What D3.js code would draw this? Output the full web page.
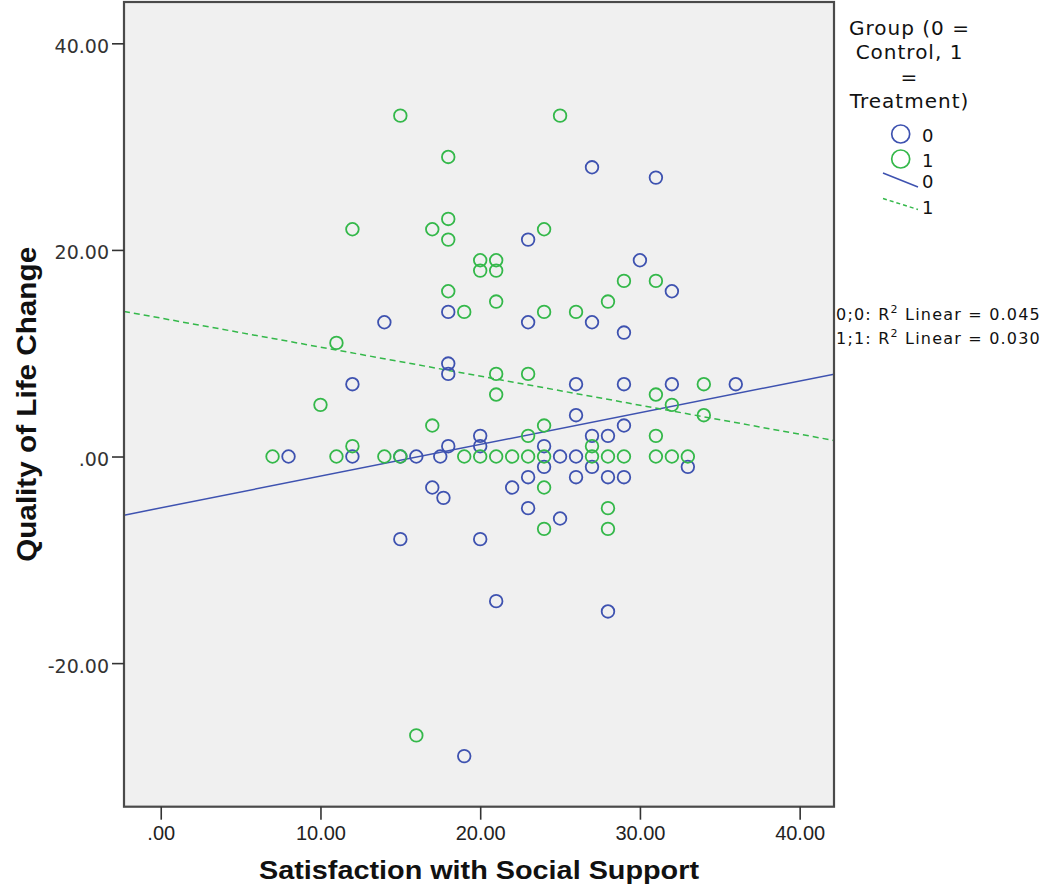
<!DOCTYPE html>
<html>
<head>
<meta charset="utf-8">
<script src="https://cdn.jsdelivr.net/npm/d3@7"></script>
<style>
  html, body { margin: 0; padding: 0; background: #ffffff; }
  svg { display: block; }
</style>
</head>
<body>
<svg id="chart" width="1050" height="889"></svg>
<script>
// ---------- DATA ----------
// Group 0 = Control (blue), [Satisfaction with Social Support, Quality of Life Change]
const controlPoints = [
  [8,0],[12,7],[12,0],[14,13],[15,0],[15,-8],[16,0],[17,-3],[17.5,0],[17.7,-4],
  [18,14],[18,9],[18,8],[18,1],[19,-29],[20,2],[20,1],[20,-8],[21,-14],[22,-3],
  [23,21],[23,13],[23,-2],[23,-5],[24,1],[24,-1],[25,0],[25,-6],[26,7],[26,4],
  [26,0],[26,-2],[27,28],[27,13],[27,2],[27,-1],[28,2],[28,-2],[28,-15],[29,12],
  [29,7],[29,3],[29,-2],[30,19],[31,27],[32,16],[32,7],[33,-1],[36,7]
];
// Group 1 = Treatment (green)
const treatmentPoints = [
  [7,0],[10,5],[11,11],[11,0],[12,22],[12,1],[14,0],[15,33],[15,0],[16,-27],
  [17,22],[17,3],[18,29],[18,23],[18,21],[18,16],[19,14],[19,0],[20,19],[20,18],
  [20,0],[21,19],[21,18],[21,15],[21,8],[21,6],[21,0],[22,0],[23,8],[23,2],
  [23,0],[24,22],[24,14],[24,3],[24,0],[24,-3],[24,-7],[25,33],[26,14],[27,1],
  [27,0],[28,15],[28,0],[28,-5],[28,-7],[29,17],[29,0],[31,17],[31,6],[31,2],
  [31,0],[32,5],[32,0],[33,0],[34,7],[34,4]
];
// Fit lines (intercept, slope)
const fitIntercepts = [-4.97, 13.40];
const fitSlopes = [0.307, -0.281];
const fitR2 = ["0.045", "0.030"];
const groupKeys = ["0", "1"];

const xDomain = [-2.3, 42.15];
const yDomain = [-33.9, 44.0];
const xTickValues = [0, 10, 20, 30, 40];
const xTickLabels = [".00", "10.00", "20.00", "30.00", "40.00"];
const yTickValues = [-20, 0, 20, 40];
const yTickLabels = ["-20.00", ".00", "20.00", "40.00"];

const xTitle = "Satisfaction with Social Support";
const yTitle = "Quality of Life Change";
const legendTitleLines = ["Group (0 =", "Control, 1", "=", "Treatment)"];

// ---------- STYLE ----------
const colors = ["#3e52b0", "#34b84a"];
const plot = { left: 124, right: 834, top: 2, bottom: 806.7 };

const svg = d3.select("#chart");

const x = d3.scaleLinear().domain(xDomain).range([plot.left, plot.right]);
const y = d3.scaleLinear().domain(yDomain).range([plot.bottom, plot.top]);

// plot background
svg.append("rect")
  .attr("x", plot.left).attr("y", plot.top)
  .attr("width", plot.right - plot.left).attr("height", plot.bottom - plot.top)
  .attr("fill", "#f0f0f0");

svg.append("clipPath").attr("id", "plotclip").append("rect")
  .attr("x", plot.left).attr("y", plot.top)
  .attr("width", plot.right - plot.left).attr("height", plot.bottom - plot.top);

const g = svg.append("g").attr("clip-path", "url(#plotclip)");

// fit lines
[0, 1].forEach(i => {
  const pts = xDomain.map(v => [v, fitIntercepts[i] + fitSlopes[i] * v]);
  g.append("path")
    .attr("d", d3.line().x(d => x(d[0])).y(d => y(d[1]))(pts))
    .attr("fill", "none")
    .attr("stroke", colors[i])
    .attr("stroke-width", 1.5)
    .attr("stroke-dasharray", i === 1 ? "6,4" : null);
});

// points
[controlPoints, treatmentPoints].forEach((pts, i) => {
  g.selectAll(null).data(pts).enter().append("circle")
    .attr("cx", d => x(d[0]))
    .attr("cy", d => y(d[1]))
    .attr("r", 6.3)
    .attr("fill", "none")
    .attr("stroke", colors[i])
    .attr("stroke-width", 1.8);
});

// frame
svg.append("rect")
  .attr("x", plot.left).attr("y", plot.top)
  .attr("width", plot.right - plot.left).attr("height", plot.bottom - plot.top)
  .attr("fill", "none")
  .attr("stroke", "#4a4a4a")
  .attr("stroke-width", 2.2);

// x axis
const xAxis = d3.axisBottom(x)
  .tickValues(xTickValues)
  .tickFormat((d, i) => xTickLabels[i])
  .tickSize(13).tickPadding(6);
const xg = svg.append("g").attr("transform", `translate(0,${plot.bottom})`).call(xAxis);
xg.select(".domain").remove();
xg.selectAll(".tick line").attr("stroke", "#333").attr("stroke-width", 1.6);
xg.selectAll(".tick text")
  .attr("font-family", "'Liberation Sans', Arial, sans-serif")
  .attr("font-size", 20)
  .attr("fill", "#222")
  .attr("dy", null)
  .attr("y", 33);

// y axis
const yAxis = d3.axisLeft(y)
  .tickValues(yTickValues)
  .tickFormat((d, i) => yTickLabels[i])
  .tickSize(12).tickPadding(3);
const yg = svg.append("g").attr("transform", `translate(${plot.left},0)`).call(yAxis);
yg.select(".domain").remove();
yg.selectAll(".tick line").attr("stroke", "#333").attr("stroke-width", 1.6);
yg.selectAll(".tick text")
  .attr("font-family", "'DejaVu Sans', Verdana, sans-serif")
  .attr("font-size", 19)
  .attr("fill", "#333")
  .attr("dy", null)
  .attr("y", 9)
  .attr("x", -15);

// axis titles
svg.append("text")
  .attr("x", (plot.left + plot.right) / 2)
  .attr("y", 879)
  .attr("text-anchor", "middle")
  .attr("font-family", "'Liberation Sans', Arial, sans-serif")
  .attr("font-weight", "bold")
  .attr("font-size", 25)
  .attr("fill", "#111")
  .attr("textLength", 440)
  .attr("lengthAdjust", "spacingAndGlyphs")
  .text(xTitle);

svg.append("text")
  .attr("transform", `translate(36,${(plot.top + plot.bottom) / 2}) rotate(-90)`)
  .attr("text-anchor", "middle")
  .attr("font-family", "'Liberation Sans', Arial, sans-serif")
  .attr("font-weight", "bold")
  .attr("font-size", 27)
  .attr("fill", "#111")
  .attr("textLength", 315)
  .attr("lengthAdjust", "spacingAndGlyphs")
  .text(yTitle);

// legend
const legendFont = "'DejaVu Sans', Verdana, sans-serif";
const lcx = 909.5;
legendTitleLines.forEach((t, i) => {
  svg.append("text")
    .attr("x", lcx).attr("y", 35 + i * 24.3)
    .attr("text-anchor", "middle")
    .attr("font-family", legendFont)
    .attr("font-size", 20)
    .attr("letter-spacing", 1)
    .attr("fill", "#111")
    .text(t);
});

groupKeys.forEach((k, i) => {
  const cy = 134 + i * 25;
  svg.append("circle")
    .attr("cx", 900.7).attr("cy", cy).attr("r", 9)
    .attr("fill", "none").attr("stroke", colors[i]).attr("stroke-width", 1.7);
  svg.append("text")
    .attr("x", 922).attr("y", cy + 7.5)
    .attr("font-family", legendFont).attr("font-size", 18)
    .attr("fill", "#111").text(k);
});
groupKeys.forEach((k, i) => {
  const y0 = 173 + i * 25.5;
  svg.append("line")
    .attr("x1", 883).attr("y1", y0)
    .attr("x2", 918).attr("y2", y0 + (i === 0 ? 14 : 11))
    .attr("stroke", colors[i]).attr("stroke-width", 1.5)
    .attr("stroke-dasharray", i === 1 ? "4,3" : null);
  svg.append("text")
    .attr("x", 922).attr("y", y0 + 15)
    .attr("font-family", legendFont).attr("font-size", 18)
    .attr("fill", "#111").text(k);
});

// R2 annotations
groupKeys.forEach((k, i) => {
  const t = svg.append("text")
    .attr("x", 836).attr("y", 319.5 + i * 24)
    .attr("font-family", legendFont)
    .attr("font-size", 16)
    .attr("letter-spacing", 1.2)
    .attr("fill", "#111");
  t.append("tspan").text(`${k};${k}: R`);
  t.append("tspan").attr("dy", -7).attr("font-size", 11).text("2");
  t.append("tspan").attr("dy", 7).text(` Linear = ${fitR2[i]}`);
});
</script>
</body>
</html>
